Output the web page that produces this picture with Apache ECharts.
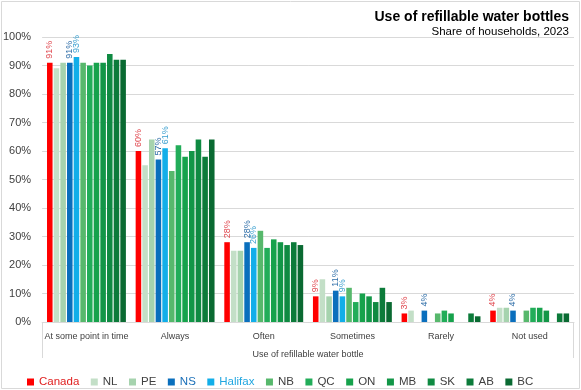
<!DOCTYPE html>
<html>
<head>
<meta charset="utf-8">
<script src="https://cdn.jsdelivr.net/npm/echarts@6/dist/echarts.min.js"></script>
<style>
html,body{margin:0;padding:0;background:#fff;}
#c{width:581px;height:390px;}
</style>
</head>
<body>
<div id="c"></div>
<script>
const categories = ["At some point in time", "Always", "Often", "Sometimes", "Rarely", "Not used"];
const seriesNames = ["Canada", "NL", "PE", "NS", "Halifax", "NB", "QC", "ON", "MB", "SK", "AB", "BC"];
const canada  = [91, 60, 28, 9, 3, 4];
const nl      = [89, 55, 25, 15, 4, 5];
const pe      = [91, 64, 25, 9, null, 5];
const ns      = [91, 57, 28, 11, 4, 4];
const halifax = [93, 61, 26, 9, null, null];
const nb      = [91, 53, 32, 12, 3, 4];
const qc      = [90, 62, 26, 7, 4, 5];
const on      = [91, 58, 29, 10, 3, 5];
const mb      = [91, 60, 28, 9, null, 4];
const sk      = [94, 64, 27, 7, null, null];
const ab      = [92, 58, 28, 12, 3, 3];
const bc      = [92, 64, 27, 7, 2, 3];
const yTicks = [0, 10, 20, 30, 40, 50, 60, 70, 80, 90, 100];

const values = [canada, nl, pe, ns, halifax, nb, qc, on, mb, sk, ab, bc];
const colors = ["#ff0000", "#c3dfc7", "#a6d3ae", "#0a6fbd", "#12aee9", "#57b86c", "#22ad59", "#16a24c", "#129647", "#0f8a42", "#0c7b3a", "#0a6a32"];
const labelColors = {Canada: "#e0484f", NS: "#2f6ea8", Halifax: "#3a9fcf"};
const legendText = {Canada: "#e02020", NS: "#1a6fb8", Halifax: "#20a6e0"};
const FONT = 'Liberation Sans, Arial, sans-serif';

const chart = echarts.init(document.getElementById('c'), null, {renderer: 'canvas'});
const series = seriesNames.map((n, i) => ({
  name: n,
  type: 'bar',
  data: values[i],
  barGap: '20%',
  barCategoryGap: '11%',
  itemStyle: {color: colors[i]},
  label: {
    show: !!labelColors[n],
    position: 'top',
    rotate: 90,
    align: 'left',
    verticalAlign: 'middle',
    distance: 4,
    fontSize: 9,
    fontFamily: FONT,
    color: labelColors[n] || '#000',
    formatter: '{c}%'
  }
}));

chart.setOption({
  animation: false,
  title: [{
    text: 'Use of refillable water bottles',
    right: 7, top: 5,
    textStyle: {fontSize: 14, fontWeight: 'bold', color: '#000', fontFamily: FONT}
  }, {
    text: 'Share of households, 2023',
    right: 7, top: 21,
    textStyle: {fontSize: 11.5, fontWeight: 'normal', color: '#000', fontFamily: FONT}
  }],
  grid: {left: 42, right: 7, top: 37, bottom: 68, containLabel: false},
  legend: {
    top: 371,
    left: 22,
    width: 560,
    itemWidth: 7,
    itemHeight: 7,
    itemGap: 11.5,
    icon: 'rect',
    textStyle: {fontSize: 11.5, color: '#404040', fontFamily: FONT},
    data: seriesNames.map(n => ({name: n, textStyle: legendText[n] ? {color: legendText[n]} : {}}))
  },
  xAxis: {
    type: 'category',
    data: categories,
    axisLine: {lineStyle: {color: '#d9d9d9'}},
    axisTick: {show: false},
    axisLabel: {interval: 0, fontSize: 9, color: '#404040', margin: 10, fontFamily: FONT},
    name: 'Use of refillable water bottle',
    nameLocation: 'middle',
    nameGap: 28,
    nameTextStyle: {fontSize: 9, color: '#404040', fontFamily: FONT}
  },
  yAxis: {
    type: 'value',
    min: yTicks[0],
    max: yTicks[yTicks.length - 1],
    interval: yTicks[1] - yTicks[0],
    axisLine: {show: false},
    axisTick: {show: false},
    splitLine: {lineStyle: {color: '#d9d9d9'}},
    axisLabel: {fontSize: 11, color: '#404040', margin: 11, formatter: '{value}%', fontFamily: FONT}
  },
  graphic: [
    {type: 'rect', shape: {x: 1.5, y: 1.5, width: 578, height: 387}, style: {fill: 'none', stroke: '#d9d9d9', lineWidth: 1}, silent: true},
    {type: 'line', shape: {x1: 42.5, y1: 322, x2: 42.5, y2: 358}, style: {stroke: '#d9d9d9', lineWidth: 1}, silent: true},
    {type: 'line', shape: {x1: 573.5, y1: 322, x2: 573.5, y2: 358}, style: {stroke: '#d9d9d9', lineWidth: 1}, silent: true}
  ],
  series: series
});
</script>
</body>
</html>
